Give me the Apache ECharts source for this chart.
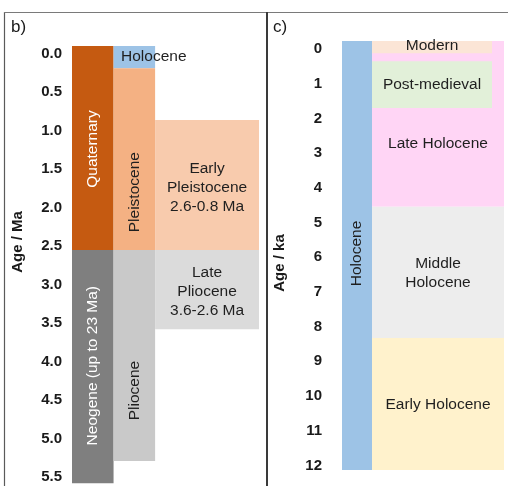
<!DOCTYPE html>
<html>
<head>
<meta charset="utf-8">
<script src="https://cdn.jsdelivr.net/npm/echarts@6/dist/echarts.min.js"></script>
<style>
  html, body { margin: 0; padding: 0; background: #fff; }
  #main { width: 508px; height: 486px; }
</style>
</head>
<body>
<div id="main"></div>
<script>
// b) Ma timescale
var leftNames = ['Quaternary', 'Neogene (up to 23 Ma)', 'Holocene', 'Pleistocene', 'Pliocene',
                 'Early\nPleistocene\n2.6-0.8 Ma', 'Late\nPliocene\n3.6-2.6 Ma'];
var leftStart = [0, 2.65, 0, 0.29, 2.65, 0.96, 2.65];
var leftEnd = [2.65, 5.68, 0.29, 2.65, 5.39, 2.65, 3.68];
var leftColumn = [0, 0, 1, 1, 1, 2, 2];

// c) ka timescale
var rightNames = ['Holocene', 'Late Holocene', 'Modern', 'Post-medieval', 'Middle\nHolocene', 'Early Holocene'];
var rightStart = [0, 0, 0, 0.58, 4.78, 8.56];
var rightEnd = [12.36, 4.78, 0.35, 1.93, 8.56, 12.36];
var rightColumn = [0, 2, 1, 1, 2, 2];

// layout / style
var leftEdges = [[0, 1], [1, 2], [2, 4.5]];
var rightEdges = [[0, 1], [1, 5], [1, 5.4]];
var leftColors = ['#C55A11', '#7F7F7F', '#9DC3E6', '#F4B183', '#C9C9C9', '#F8CBAD', '#DBDBDB'];
var rightColors = ['#9DC3E6', '#FFD5F5', '#FBE5D6', '#E2F0D9', '#EDEDED', '#FFF2CC'];
var leftText = ['#fff', '#fff', '#1f1f1f', '#1f1f1f', '#1f1f1f', '#1f1f1f', '#1f1f1f'];
var leftRot = [1, 1, 0, 1, 1, 0, 0];
var leftDy = [1, -1, 0, 33, 35, 3, 2];
var rightRot = [1, 0, 0, 0, 0, 0];
var rightDy = [-2, 20, -1, 0, 1, 1];

var FONT = 'Liberation Sans, Arial, sans-serif';

function makeRender(edges, colors, textColors, rot, dy, names, leftAlignIdx) {
  return function(params, api) {
    var i = params.dataIndex;
    var col = api.value(0);
    var p0 = api.coord([edges[col][0], api.value(1)]);
    var p1 = api.coord([edges[col][1], api.value(2)]);
    var cx = (p0[0] + p1[0]) / 2;
    var cy = (p0[1] + p1[1]) / 2 + dy[i];
    var alignLeft = i === leftAlignIdx;
    return {
      type: 'group',
      children: [{
        type: 'rect',
        shape: { x: p0[0], y: p0[1], width: p1[0] - p0[0], height: p1[1] - p0[1] },
        style: { fill: colors[i] }
      }, {
        type: 'text',
        x: alignLeft ? p0[0] + 7.5 : cx,
        y: cy,
        rotation: rot[i] ? Math.PI / 2 : 0,
        style: {
          text: names[i],
          fill: textColors ? textColors[i] : '#1f1f1f',
          font: '15.5px ' + FONT,
          lineHeight: 19,
          align: alignLeft ? 'left' : 'center',
          verticalAlign: 'middle'
        }
      }]
    };
  };
}

var leftData = [], rightData = [];
for (var i = 0; i < leftNames.length; i++) {
  leftData.push([leftColumn[i], leftStart[i], leftEnd[i]]);
}
for (var j = 0; j < rightNames.length; j++) {
  rightData.push([rightColumn[j], rightStart[j], rightEnd[j]]);
}

var myChart = echarts.init(document.getElementById('main'));

var axisCommon = {
  axisLine: { show: false },
  axisTick: { show: false },
  splitLine: { show: false }
};

option = {
  animation: false,
  grid: [
    { left: 72, top: 46, width: 187, height: 423.5 },
    { left: 342, top: 41, width: 162, height: 416.4 }
  ],
  xAxis: [
    { gridIndex: 0, type: 'value', min: 0, max: 4.5, show: false },
    { gridIndex: 1, type: 'value', min: 0, max: 5.4, show: false }
  ],
  yAxis: [
    Object.assign({
      gridIndex: 0, type: 'value', inverse: true, min: 0, max: 5.5, interval: 0.5,
      axisLabel: {
        margin: 10, color: '#1a1a1a', fontWeight: 'bold', fontSize: 15, fontFamily: FONT,
        verticalAlign: 'top', lineHeight: 15,
        formatter: function(v) { return v.toFixed(1); }
      }
    }, axisCommon),
    Object.assign({
      gridIndex: 1, type: 'value', inverse: true, min: 0, max: 12, interval: 1,
      axisLabel: {
        margin: 20, color: '#1a1a1a', fontWeight: 'bold', fontSize: 15, fontFamily: FONT,
        verticalAlign: 'top', lineHeight: 16
      }
    }, axisCommon)
  ],
  series: [{
    type: 'custom',
    xAxisIndex: 0, yAxisIndex: 0,
    clip: false,
    renderItem: makeRender(leftEdges, leftColors, leftText, leftRot, leftDy, leftNames, 2),
    data: leftData
  }, {
    type: 'custom',
    xAxisIndex: 1, yAxisIndex: 1,
    clip: false,
    renderItem: makeRender(rightEdges, rightColors, null, rightRot, rightDy, rightNames, -1),
    data: rightData
  }],
  graphic: [
    { type: 'line', shape: { x1: 4.5, y1: 12, x2: 4.5, y2: 486 }, style: { stroke: '#5a5a5a', lineWidth: 1.2 } },
    { type: 'line', shape: { x1: 4, y1: 12.5, x2: 508, y2: 12.5 }, style: { stroke: '#7a7a7a', lineWidth: 1.2 } },
    { type: 'line', shape: { x1: 267, y1: 12, x2: 267, y2: 486 }, style: { stroke: '#3a3a3a', lineWidth: 2 } },
    { type: 'text', x: 11, y: 27, style: { text: 'b)', font: '17px ' + FONT, fill: '#1a1a1a', verticalAlign: 'middle' } },
    { type: 'text', x: 273, y: 27, style: { text: 'c)', font: '17px ' + FONT, fill: '#1a1a1a', verticalAlign: 'middle' } },
    { type: 'text', x: 18, y: 242, rotation: Math.PI / 2,
      style: { text: 'Age / Ma', font: 'bold 15px ' + FONT, fill: '#1a1a1a', align: 'center', verticalAlign: 'middle' } },
    { type: 'text', x: 280, y: 263, rotation: Math.PI / 2,
      style: { text: 'Age / ka', font: 'bold 15px ' + FONT, fill: '#1a1a1a', align: 'center', verticalAlign: 'middle' } }
  ]
};

myChart.setOption(option);
window.addEventListener('resize', function() {
  myChart.resize();
});
</script>
</body>
</html>
